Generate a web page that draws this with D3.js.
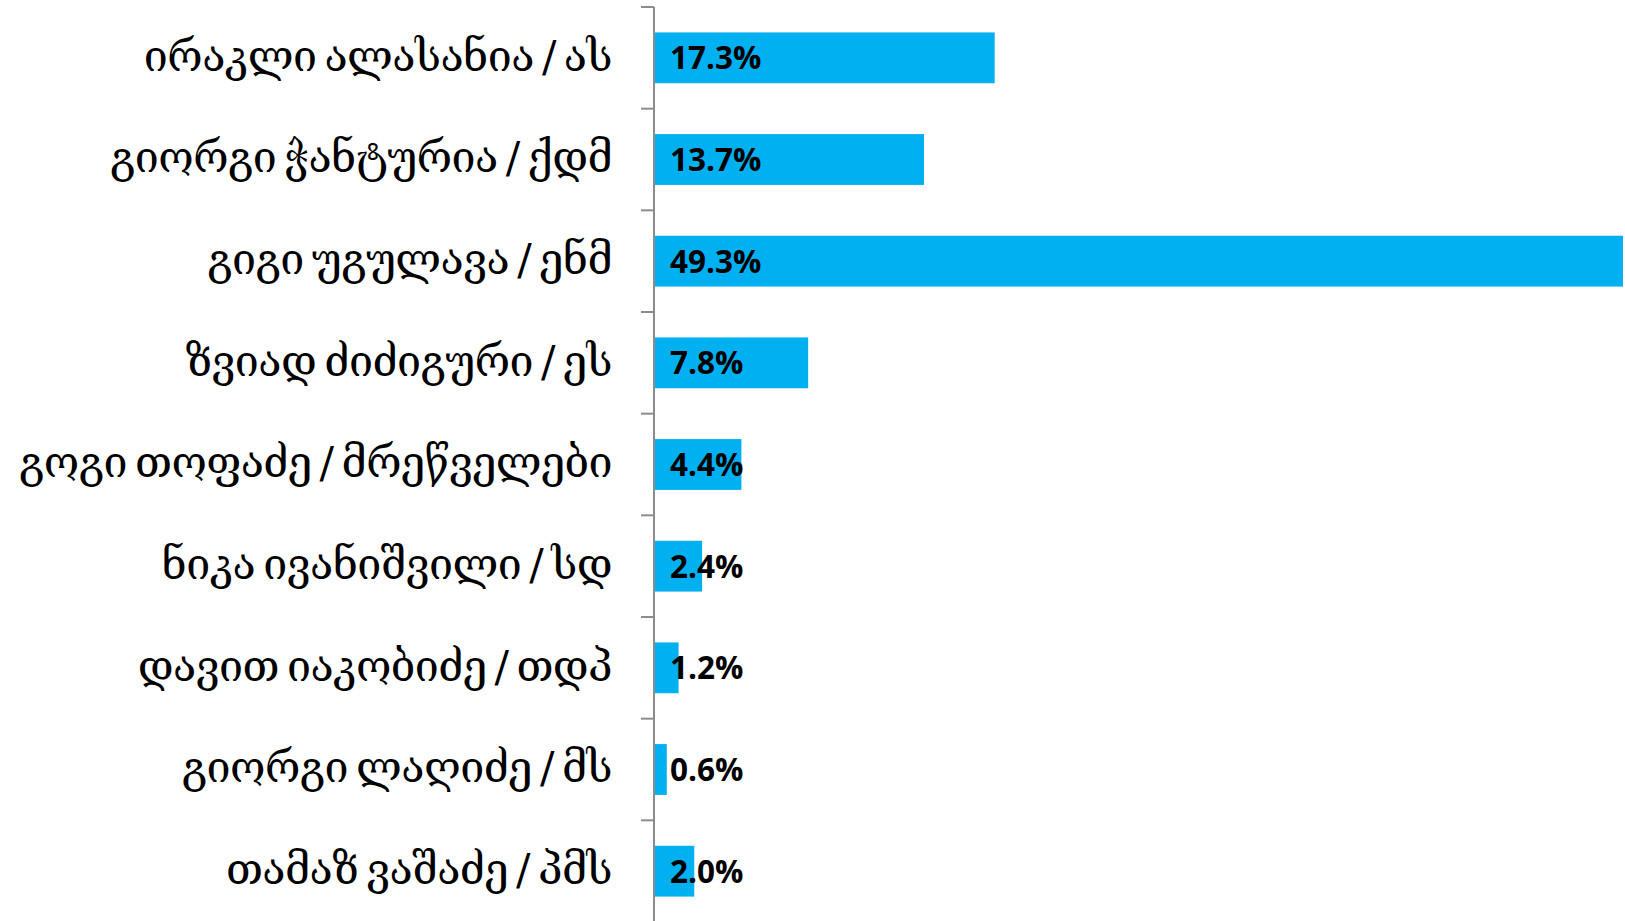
<!DOCTYPE html>
<html>
<head>
<meta charset="utf-8">
<script src="https://cdn.jsdelivr.net/npm/d3@7"></script>
<style>
  html, body { margin: 0; padding: 0; background: #fff; }
</style>
</head>
<body>
<svg class="chart"></svg>
<script>
// candidates and their shares (%)
var categories = [
  "ირაკლი ალასანია / ას",
  "გიორგი ჭანტურია / ქდმ",
  "გიგი უგულავა / ენმ",
  "ზვიად ძიძიგური / ეს",
  "გოგი თოფაძე / მრეწველები",
  "ნიკა ივანიშვილი / სდ",
  "დავით იაკობიძე / თდპ",
  "გიორგი ლაღიძე / მს",
  "თამაზ ვაშაძე / პმს"
];
var values = [17.3, 13.7, 49.3, 7.8, 4.4, 2.4, 1.2, 0.6, 2.0];

var width = 1625, height = 921;
var margin = { top: 7, right: 2, bottom: -1, left: 654 };

var svg = d3.select(".chart")
  .attr("width", width)
  .attr("height", height);

var x = d3.scaleLinear()
  .domain([0, d3.max(values)])
  .range([margin.left + 1, width - margin.right]);

var y = d3.scaleBand()
  .domain(categories)
  .range([margin.top, height - margin.bottom])
  .paddingInner(0.5)
  .paddingOuter(0.25);

var fmt = function(v) { return d3.format(".1f")(v) + "%"; };

// bars
svg.append("g")
  .selectAll("rect")
  .data(values)
  .join("rect")
  .attr("x", x(0))
  .attr("y", function(d, i) { return y(categories[i]); })
  .attr("width", function(d) { return x(d) - x(0); })
  .attr("height", y.bandwidth())
  .attr("fill", "#00b0f0");

// category axis, ticks between categories (excel style)
var step = y.step();
var yAxis = svg.append("g")
  .attr("transform", "translate(" + margin.left + ",0)");

yAxis.append("line")
  .attr("x1", 0).attr("x2", 0)
  .attr("y1", margin.top).attr("y2", height)
  .attr("stroke", "#8c8c8c")
  .attr("stroke-width", 2);

yAxis.selectAll(".tick-line")
  .data(d3.range(categories.length))
  .join("line")
  .attr("class", "tick-line")
  .attr("x1", -13).attr("x2", 0)
  .attr("y1", function(i) { return y(categories[i]) - step * 0.25; })
  .attr("y2", function(i) { return y(categories[i]) - step * 0.25; })
  .attr("stroke", "#8c8c8c")
  .attr("stroke-width", 2);

yAxis.selectAll(".cat")
  .data(categories)
  .join("text")
  .attr("class", "cat")
  .attr("x", -42)
  .attr("y", function(d) { return y(d) + y.bandwidth() / 2; })
  .attr("dy", "0.3em")
  .attr("text-anchor", "end")
  .style("font", "43px 'DejaVu Serif'")
  .style("word-spacing", "-5px")
  .style("letter-spacing", "-0.6px")
  .attr("fill", "#000")
  .text(function(d) { return d; });

// value labels
svg.append("g")
  .selectAll("text")
  .data(values)
  .join("text")
  .attr("x", x(0) + 15)
  .attr("y", function(d, i) { return y(categories[i]) + y.bandwidth() / 2; })
  .attr("dy", "0.36em")
  .style("font", "bold 31.5px 'Open Sans'")
  .attr("fill", "#000")
  .text(fmt);
</script>
</body>
</html>
